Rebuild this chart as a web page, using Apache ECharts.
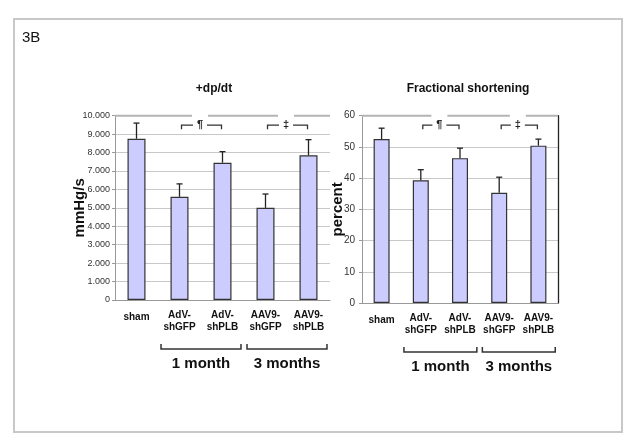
<!DOCTYPE html>
<html>
<head>
<meta charset="utf-8">
<script src="https://cdn.jsdelivr.net/npm/echarts@6/dist/echarts.min.js"></script>
<style>html,body{margin:0;padding:0;background:#fff;}#c{width:634px;height:445px;}</style>
</head>
<body>
<div id="c"></div>
<script>
// ---- data ----
const categories = ['sham', 'AdV-\nshGFP', 'AdV-\nshPLB', 'AAV9-\nshGFP', 'AAV9-\nshPLB'];
const dpdtMean = [8750, 5600, 7450, 5000, 7850];
const dpdtErrTop = [9600, 6300, 8050, 5750, 8700];
const fsMean = [52.5, 39.3, 46.4, 35.3, 50.4];
const fsErrTop = [56, 42.7, 49.6, 40.3, 52.5];
const sigPairs = [[1, 2], [3, 4]];
const sigSymbols = ['¶', '‡'];
const groupPairs = [[1, 2], [3, 4]];
const groupLabels = ['1 month', '3 months'];
const dpdtMax = 10000, dpdtStep = 1000;
const fsMax = 60, fsStep = 10;

const FONT = '"Liberation Sans", Arial, Helvetica, sans-serif';
const chart = echarts.init(document.getElementById('c'), null, {renderer: 'canvas'});

function fmtThousands(v) {
  return String(v).replace(/\B(?=(\d{3})+(?!\d))/g, '.');
}

function errRender(tops) {
  return function (params, api) {
    const i = api.value(0);
    const p0 = api.coord([i, api.value(1)]);
    const p1 = api.coord([i, tops[params.dataIndex]]);
    const st = {stroke: '#222', lineWidth: 1.3};
    return {type: 'group', children: [
      {type: 'line', shape: {x1: p0[0], y1: p0[1], x2: p1[0], y2: p1[1]}, style: st},
      {type: 'line', shape: {x1: p1[0] - 3, y1: p1[1], x2: p1[0] + 3, y2: p1[1]}, style: st}
    ]};
  };
}

function sigRender(maxV) {
  return function (params, api) {
    const a = api.value(0), b = api.value(1);
    const pa = api.coord([a, maxV]), pb = api.coord([b, maxV]);
    const mid = (pa[0] + pb[0]) / 2 - 1;
    const y = pa[1] + 9.5;
    const st = {stroke: '#333', lineWidth: 1.3};
    return {type: 'group', children: [
      {type: 'polyline', shape: {points: [[pa[0] + 2, y + 4], [pa[0] + 2, y], [mid - 7, y]]}, style: Object.assign({fill: null}, st)},
      {type: 'polyline', shape: {points: [[mid + 7, y], [pb[0] - 1, y], [pb[0] - 1, y + 4]]}, style: Object.assign({fill: null}, st)},
      {type: 'text', x: mid, y: y, style: {text: sigSymbols[params.dataIndex], fill: '#222', font: 'bold 11px ' + FONT, textAlign: 'center', textVerticalAlign: 'middle'}}
    ]};
  };
}

function topRender(maxV) {
  return function (params, api) {
    const cs = params.coordSys;
    const y = api.coord([0, maxV])[1];
    const gaps = sigPairs.map(p => (api.coord([p[0], maxV])[0] + api.coord([p[1], maxV])[0]) / 2 - 1);
    const segs = [];
    let x = cs.x;
    gaps.forEach(g => { segs.push([x, g - 8]); x = g + 8; });
    segs.push([x, cs.x + cs.width]);
    return {type: 'group', children: segs.map(s => ({
      type: 'line', shape: {x1: s[0], y1: y, x2: s[1], y2: y}, style: {stroke: '#b4b4b4', lineWidth: 2}
    }))};
  };
}

function groupRender() {
  return function (params, api) {
    const a = api.value(0), b = api.value(1);
    const pa = api.coord([a, 0]), pb = api.coord([b, 0]);
    const w = api.size([1, 0])[0];
    const x1 = pa[0] - 0.43 * w, x2 = pb[0] + 0.43 * w;
    const y = pa[1] + 49;
    const st = {stroke: '#333', lineWidth: 1.5, fill: null};
    return {type: 'group', children: [
      {type: 'polyline', shape: {points: [[x1, y - 5], [x1, y], [x2, y], [x2, y - 5]]}, style: st},
      {type: 'text', x: (x1 + x2) / 2, y: y + 15, style: {text: groupLabels[params.dataIndex], fill: '#111', font: 'bold 15px ' + FONT, textAlign: 'center', textVerticalAlign: 'middle'}}
    ]};
  };
}

const xAxisBase = {
  type: 'category', data: categories,
  axisLine: {lineStyle: {color: '#999'}},
  axisTick: {length: 4, lineStyle: {color: '#999'}},
  axisLabel: {
    interval: 0, margin: 9, color: '#111', fontFamily: FONT, fontWeight: 'bold', fontSize: 10, lineHeight: 12,
    formatter: v => v === 'sham' ? '{s|sham}' : v,
    rich: {s: {fontFamily: FONT, fontWeight: 'bold', fontSize: 10, padding: [5, 0, 0, 0]}}
  }
};

const option = {
  animation: false,
  backgroundColor: '#fff',
  title: [
    {text: '+dp/dt', left: 209, top: 78, textAlign: 'center', textStyle: {fontFamily: FONT, fontSize: 12, fontWeight: 'bold', color: '#111'}},
    {text: 'Fractional shortening', left: 463, top: 78, textAlign: 'center', textStyle: {fontFamily: FONT, fontSize: 12, fontWeight: 'bold', color: '#111'}}
  ],
  graphic: [
    {type: 'rect', shape: {x: 14, y: 19, width: 608, height: 413}, style: {fill: null, stroke: '#c8c8c8', lineWidth: 2}},
    {type: 'text', left: 22, top: 30, style: {text: '3B', font: '15px ' + FONT, fill: '#111'}}
  ],
  grid: [
    {left: 115, right: 304, top: 115.7, bottom: 145},
    {left: 362, right: 76, top: 115.7, bottom: 142}
  ],
  xAxis: [
    Object.assign({gridIndex: 0}, xAxisBase),
    Object.assign({gridIndex: 1}, xAxisBase)
  ],
  yAxis: [
    {gridIndex: 0, type: 'value', min: 0, max: dpdtMax, interval: dpdtStep,
     name: 'mmHg/s', nameLocation: 'middle', nameGap: 28, nameMoveOverlap: false,
     nameTextStyle: {fontFamily: FONT, fontWeight: 'bold', fontSize: 15, color: '#111'},
     axisLine: {show: true, lineStyle: {color: '#999'}},
     axisTick: {show: true, length: 3, lineStyle: {color: '#999'}},
     axisLabel: {formatter: fmtThousands, fontFamily: FONT, fontSize: 9, color: '#333', margin: 5},
     splitLine: {show: true, showMaxLine: false, lineStyle: {color: '#c8c8c8', width: 1}}},
    {gridIndex: 1, type: 'value', min: 0, max: fsMax, interval: fsStep,
     name: 'percent', nameLocation: 'middle', nameGap: 17, nameMoveOverlap: false,
     nameTextStyle: {fontFamily: FONT, fontWeight: 'bold', fontSize: 15, color: '#111'},
     axisLine: {show: true, lineStyle: {color: '#999'}},
     axisTick: {show: true, length: 3, lineStyle: {color: '#999'}},
     axisLabel: {fontFamily: FONT, fontSize: 10, color: '#333', margin: 7},
     splitLine: {show: true, showMaxLine: false, lineStyle: {color: '#c8c8c8', width: 1}}},
    {gridIndex: 1, type: 'value', min: 0, max: fsMax, position: 'right',
     axisLine: {show: true, lineStyle: {color: '#222', width: 1.3}},
     axisTick: {show: false}, axisLabel: {show: false}, splitLine: {show: false}}
  ],
  series: [
    {type: 'bar', xAxisIndex: 0, yAxisIndex: 0, data: dpdtMean, barWidth: 18,
     itemStyle: {color: '#ccccff', borderColor: '#333', borderWidth: 1.2}},
    {type: 'bar', xAxisIndex: 1, yAxisIndex: 1, data: fsMean, barWidth: 16,
     itemStyle: {color: '#ccccff', borderColor: '#333', borderWidth: 1.2}},
    {type: 'custom', xAxisIndex: 0, yAxisIndex: 0, renderItem: errRender(dpdtErrTop),
     data: dpdtMean.map((v, i) => [i, v]), z: 5},
    {type: 'custom', xAxisIndex: 1, yAxisIndex: 1, renderItem: errRender(fsErrTop),
     data: fsMean.map((v, i) => [i, v]), z: 5},
    {type: 'custom', xAxisIndex: 0, yAxisIndex: 0, renderItem: topRender(dpdtMax), data: [[0, 0]], clip: false},
    {type: 'custom', xAxisIndex: 1, yAxisIndex: 1, renderItem: topRender(fsMax), data: [[0, 0]], clip: false},
    {type: 'custom', xAxisIndex: 0, yAxisIndex: 0, renderItem: sigRender(dpdtMax), data: sigPairs, clip: false},
    {type: 'custom', xAxisIndex: 1, yAxisIndex: 1, renderItem: sigRender(fsMax), data: sigPairs, clip: false},
    {type: 'custom', xAxisIndex: 0, yAxisIndex: 0, renderItem: groupRender(), data: groupPairs, clip: false},
    {type: 'custom', xAxisIndex: 1, yAxisIndex: 1, renderItem: groupRender(), data: groupPairs, clip: false}
  ]
};
chart.setOption(option);
</script>
</body>
</html>
